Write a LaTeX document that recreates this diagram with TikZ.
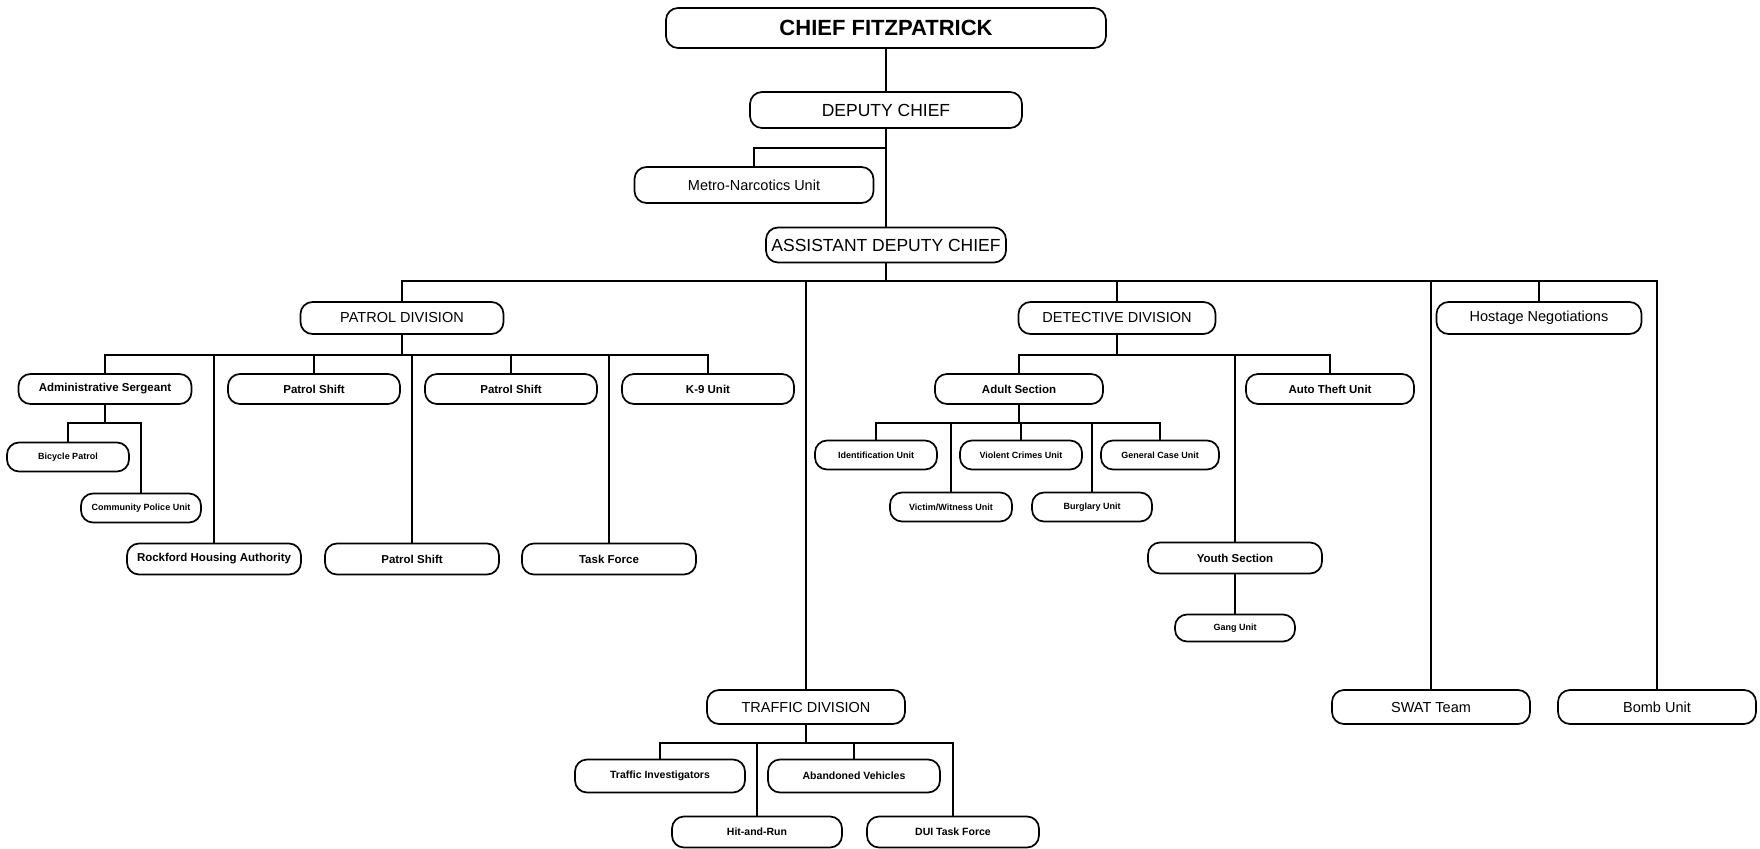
\documentclass[tikz,border=0pt]{standalone}
\usepackage{fontspec}
\setmainfont{Liberation Sans}
\begin{document}
\begin{tikzpicture}[x=1pt,y=-1pt,
  box/.style={draw, line width=1.7pt, rounded corners=12pt, inner sep=0pt, align=center},
  fA/.style={font=\fontsize{22}{24}\selectfont\bfseries},
  fB/.style={font=\fontsize{17.5}{20}\selectfont},
  fC/.style={font=\fontsize{14.5}{17}\selectfont},
  fD/.style={font=\fontsize{11.5}{13}\selectfont\bfseries},
  fE/.style={font=\fontsize{9}{11}\selectfont\bfseries},
  fF/.style={font=\fontsize{10.5}{12}\selectfont\bfseries},
  conn/.style={line width=1.5pt}]
\useasboundingbox (0,0) rectangle (1760,848);
\fill[white] (0,0) rectangle (1760,848);
% top levels
\node[box,fA,minimum width=440,minimum height=40] (chief) at (886,28) {CHIEF FITZPATRICK};
\node[box,fB,minimum width=272,minimum height=36] (deputy) at (886,110) {DEPUTY CHIEF};
\node[box,fC,minimum width=239,minimum height=36] (metro) at (754,185) {Metro-Narcotics Unit};
\node[box,fB,minimum width=240,minimum height=35] (adc) at (886,245) {ASSISTANT DEPUTY CHIEF};
% divisions
\node[box,fC,minimum width=203,minimum height=32] (patrol) at (402,318) {PATROL DIVISION};
\node[box,fC,minimum width=197,minimum height=32] (detect) at (1117,318) {DETECTIVE DIVISION};
\node[box,fC,minimum width=205,minimum height=32] (hostage) at (1539,318) {Hostage Negotiations};
\node[box,fC,minimum width=198,minimum height=34] (traffic) at (806,707) {TRAFFIC DIVISION};
\node[box,fC,minimum width=198,minimum height=34] (swat) at (1431,707) {SWAT Team};
\node[box,fC,minimum width=198,minimum height=34] (bomb) at (1657,707) {Bomb Unit};
% patrol units
\node[box,fD,minimum width=173,minimum height=30] (admin) at (105,389) {Administrative Sergeant};
\node[box,fD,minimum width=172,minimum height=30] (shiftA) at (314,389) {Patrol Shift};
\node[box,fD,minimum width=172,minimum height=30] (shiftB) at (511,389) {Patrol Shift};
\node[box,fD,minimum width=172,minimum height=30] (knine) at (708,389) {K-9 Unit};
\node[box,fE,minimum width=122,minimum height=29] (bicycle) at (68,457) {Bicycle Patrol};
\node[box,fE,minimum width=120,minimum height=29] (community) at (141,508) {Community Police Unit};
\node[box,fD,minimum width=174,minimum height=31] (rockford) at (214,559) {Rockford Housing Authority};
\node[box,fD,minimum width=174,minimum height=31] (shiftC) at (412,559) {Patrol Shift};
\node[box,fD,minimum width=174,minimum height=31] (taskf) at (609,559) {Task Force};
% detective units
\node[box,fD,minimum width=168,minimum height=30] (adult) at (1019,389) {Adult Section};
\node[box,fD,minimum width=168,minimum height=30] (autot) at (1330,389) {Auto Theft Unit};
\node[box,fE,minimum width=122,minimum height=29] (ident) at (876,455) {Identification Unit};
\node[box,fE,minimum width=122,minimum height=29] (violent) at (1021,455) {Violent Crimes Unit};
\node[box,fE,minimum width=118,minimum height=29] (general) at (1160,455) {General Case Unit};
\node[box,fE,minimum width=122,minimum height=29] (victim) at (951,507) {Victim/Witness Unit};
\node[box,fE,minimum width=120,minimum height=29] (burglary) at (1092,507) {Burglary Unit};
\node[box,fD,minimum width=174,minimum height=31] (youth) at (1235,558) {Youth Section};
\node[box,fE,minimum width=120,minimum height=27] (gang) at (1235,628) {Gang Unit};
% traffic units
\node[box,fF,minimum width=170,minimum height=33] (tinv) at (660,776) {Traffic Investigators};
\node[box,fF,minimum width=172,minimum height=33] (aband) at (854,776) {Abandoned Vehicles};
\node[box,fF,minimum width=170,minimum height=31] (hitrun) at (757,832) {Hit-and-Run};
\node[box,fF,minimum width=172,minimum height=31] (dui) at (953,832) {DUI Task Force};
% bar coordinates
\coordinate (bDep) at (886,148);
\coordinate (bMain) at (886,281);
\coordinate (bPat) at (402,355);
\coordinate (bAdm) at (105,423);
\coordinate (bDet) at (1117,355);
\coordinate (bAdu) at (1019,423);
\coordinate (bTra) at (806,743);
% connectors
\draw[conn] (chief.south) -- (deputy.north);
\draw[conn] (deputy.south) -- (adc.north);
\draw[conn] (metro.north) |- (bDep);
\draw[conn] (adc.south) -- (bMain);
\draw[conn] (patrol.north) |- (bMain) -| (bomb.north);
\draw[conn] (detect.north) -- (detect.north |- bMain);
\draw[conn] (hostage.north) -- (hostage.north |- bMain);
\draw[conn] (swat.north) -- (swat.north |- bMain);
\draw[conn] (traffic.north) -- (traffic.north |- bMain);
% patrol
\draw[conn] (patrol.south) -- (bPat);
\draw[conn] (admin.north) |- (bPat) -| (knine.north);
\draw[conn] (shiftA.north) -- (shiftA.north |- bPat);
\draw[conn] (shiftB.north) -- (shiftB.north |- bPat);
\draw[conn] (rockford.north) -- (rockford.north |- bPat);
\draw[conn] (shiftC.north) -- (shiftC.north |- bPat);
\draw[conn] (taskf.north) -- (taskf.north |- bPat);
\draw[conn] (admin.south) -- (bAdm);
\draw[conn] (bicycle.north) |- (bAdm) -| (community.north);
% detective
\draw[conn] (detect.south) -- (bDet);
\draw[conn] (adult.north) |- (bDet) -| (autot.north);
\draw[conn] (youth.north) -- (youth.north |- bDet);
\draw[conn] (adult.south) -- (bAdu);
\draw[conn] (ident.north) |- (bAdu) -| (general.north);
\draw[conn] (violent.north) -- (violent.north |- bAdu);
\draw[conn] (victim.north) -- (victim.north |- bAdu);
\draw[conn] (burglary.north) -- (burglary.north |- bAdu);
\draw[conn] (youth.south) -- (gang.north);
% traffic
\draw[conn] (traffic.south) -- (bTra);
\draw[conn] (tinv.north) |- (bTra) -| (dui.north);
\draw[conn] (aband.north) -- (aband.north |- bTra);
\draw[conn] (hitrun.north) -- (hitrun.north |- bTra);
\end{tikzpicture}
\end{document}
